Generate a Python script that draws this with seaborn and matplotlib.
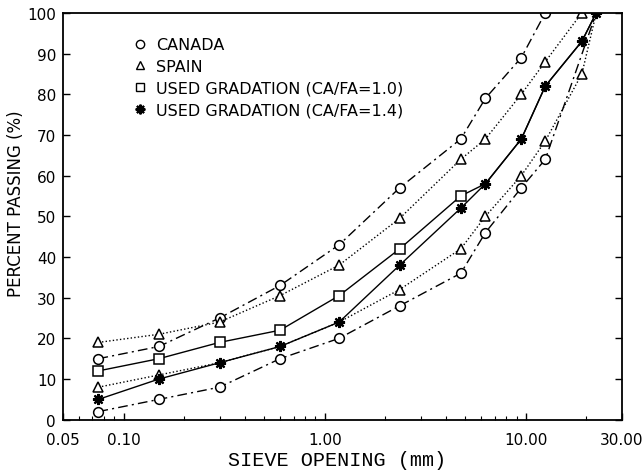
import numpy as np
import pandas as pd
import matplotlib
matplotlib.use("Agg")
import matplotlib.pyplot as plt
from matplotlib.lines import Line2D
from matplotlib.ticker import FixedLocator, FixedFormatter, LogLocator, NullFormatter
import seaborn as sns

# Sieve openings (mm)
sieve = [0.075, 0.15, 0.3, 0.6, 1.18, 2.36, 4.75, 6.3, 9.5, 12.5, 19.0, 22.4]
nan = np.nan

# Gradation limits, percent passing
canada_upper = [15, 18, 25, 33, 43, 57, 69, 79, 89, 100, nan, nan]
canada_lower = [2, 5, 8, 15, 20, 28, 36, 46, 57, 64, nan, 100]
spain_upper = [19, 21, 24, 30.5, 38, 49.5, 64, 69, 80, 88, 100, nan]
spain_lower = [8, 11, 14, 18, 24, 32, 42, 50, 60, 68.5, 85, 100]

# Gradations used in the mixes
used_10 = [12, 15, 19, 22, 30.5, 42, 55, 58, 69, 82, 93, 100]
used_14 = [5, 10, 14, 18, 24, 38, 52, 58, 69, 82, 93, 100]

x_ticks = [0.05, 0.10, 1.00, 10.00, 30.00]
x_tick_labels = ["0.05", "0.10", "1.00", "10.00", "30.00"]
y_ticks = list(range(0, 101, 10))

legend_labels = ["CANADA", "SPAIN",
                 "USED GRADATION (CA/FA=1.0)",
                 "USED GRADATION (CA/FA=1.4)"]

sns.set_style("ticks")
plt.rcParams["font.family"] = ["DejaVu Sans"]
plt.rcParams.update({"text.color": "black", "axes.labelcolor": "black",
                     "xtick.color": "black", "ytick.color": "black"})

fig = plt.figure(figsize=(6.43, 4.77), dpi=100)
ax = fig.add_axes([0.098, 0.118, 0.869, 0.853])

dashdot = (0, (7, 3, 1.5, 3))
dotted = (0, (1, 1.6))
ast = (8, 2, 0)

series = [
    (canada_upper, "o", dashdot, None),
    (canada_lower, "o", dashdot, [0, 1, 2, 3, 4, 5, 6, 7, 8, 9]),
    (spain_upper, "^", dotted, None),
    (spain_lower, "^", dotted, [0, 1, 5, 6, 7, 8, 9, 10]),
    (used_10, "s", "-", [0, 1, 2, 3, 4, 5, 6]),
    (used_14, ast, "-", None),
]

for vals, mk, ls, every in series:
    df = pd.DataFrame({"sieve": sieve, "passing": vals}).dropna()
    kws = dict(color="black", linewidth=1.0, linestyle=ls, marker=mk,
               markersize=7 if mk != ast else 8,
               markerfacecolor="white", markeredgecolor="black",
               markeredgewidth=1.1 if mk != ast else 1.6)
    if every is not None:
        kws["markevery"] = every
    sns.lineplot(data=df, x="sieve", y="passing", ax=ax, sort=False,
                 estimator=None, **kws)

ax.set_xscale("log")
ax.set_xlim(0.05, 30)
ax.set_ylim(0, 100)

ax.xaxis.set_major_locator(FixedLocator(x_ticks))
ax.xaxis.set_major_formatter(FixedFormatter(x_tick_labels))
ax.xaxis.set_minor_locator(LogLocator(base=10, subs=np.arange(2, 10)))
ax.xaxis.set_minor_formatter(NullFormatter())
ax.set_yticks(y_ticks)
ax.set_yticklabels([str(v) for v in y_ticks])

ax.tick_params(axis="both", which="major", direction="in", length=5,
               width=1, labelsize=11, right=True, pad=5)
ax.tick_params(axis="x", which="major", pad=9)
ax.tick_params(axis="x", which="minor", direction="in", length=3, width=0.8)
for sp in ax.spines.values():
    sp.set_linewidth(1.3)
    sp.set_color("black")

ax.set_xlabel("SIEVE OPENING (mm)", family=["Liberation Mono"], fontsize=14.5)
ax.xaxis.set_label_coords(0.49, -0.075)
ax.set_ylabel("PERCENT PASSING (%)", fontsize=12)
ax.yaxis.set_label_coords(-0.068, 0.533)

handles = [
    Line2D([], [], linestyle="None", marker="o", markersize=6,
           markerfacecolor="white", markeredgecolor="black"),
    Line2D([], [], linestyle="None", marker="^", markersize=6,
           markerfacecolor="white", markeredgecolor="black"),
    Line2D([], [], linestyle="None", marker="s", markersize=5.5,
           markerfacecolor="white", markeredgecolor="black"),
    Line2D([], [], linestyle="None", marker=ast, markersize=7,
           markeredgewidth=1.5, markeredgecolor="black"),
]
ax.legend(handles, legend_labels, loc="upper left",
          bbox_to_anchor=(0.1, 0.975), frameon=False, fontsize=11.5,
          handlelength=0.8, handletextpad=0.6, labelspacing=0.42)

fig.savefig("out.png", dpi=100)
